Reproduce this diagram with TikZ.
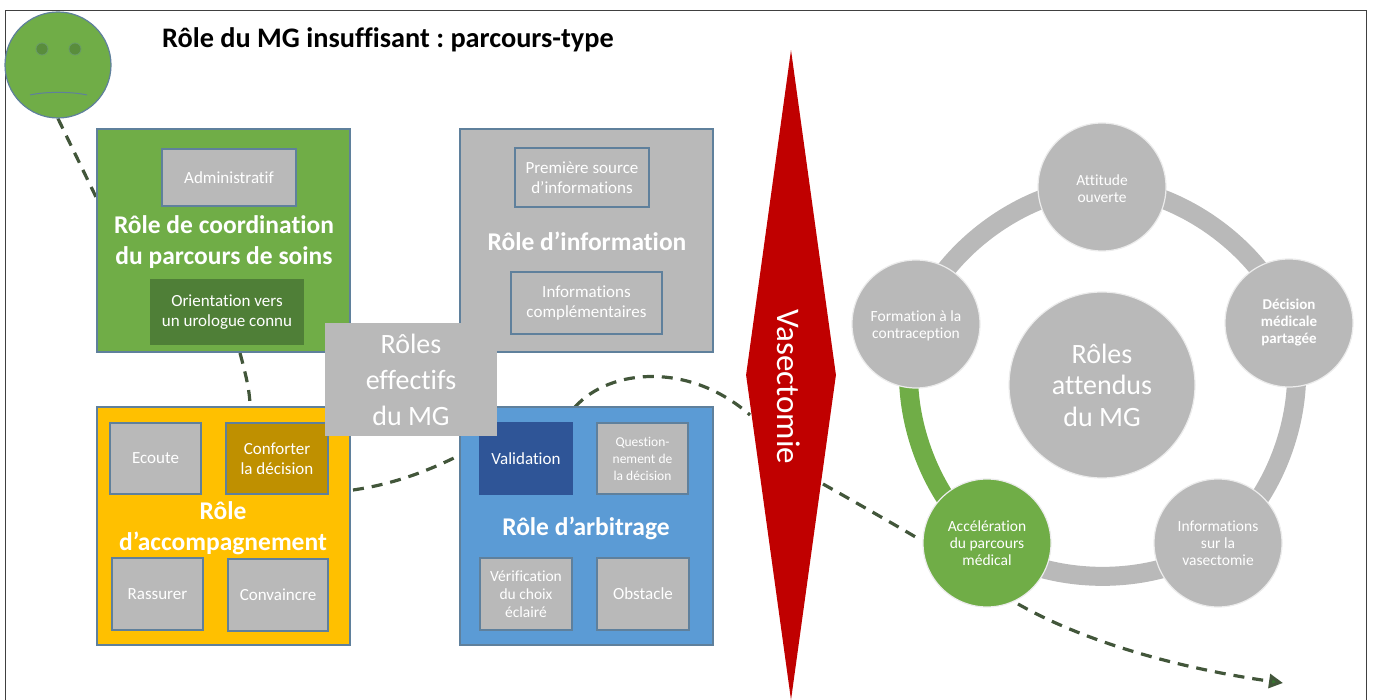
\documentclass[tikz,border=0pt]{standalone}
\usepackage{fontspec}
\setmainfont{Carlito}[Ligatures=NoCommon]
\usetikzlibrary{shapes.geometric,arrows.meta,backgrounds}
\definecolor{cgreen}{HTML}{70AD47}
\definecolor{cdgreen}{HTML}{4F7F37}
\definecolor{cblue}{HTML}{5B9BD5}
\definecolor{cdblue}{HTML}{2F5597}
\definecolor{cyellow}{HTML}{FFC000}
\definecolor{cgold}{HTML}{BF9000}
\definecolor{cgray}{HTML}{B9B9B9}
\definecolor{cred}{HTML}{C00000}
\definecolor{cline}{HTML}{5F809C}
\definecolor{cdash}{HTML}{42563A}
\tikzset{
  panel/.style={draw=cline,line width=1.2pt,rectangle,inner sep=0pt},
  inbox/.style={draw=cline,line width=1.3pt,rectangle,inner sep=1pt,fill=cgray,text=white,font=\fontsize{17}{20.5}\selectfont,align=center},
  head/.style={text=white,font=\bfseries\fontsize{25.5}{31}\selectfont,align=center,inner sep=0pt},
  big/.style={text=white,font=\fontsize{28}{36}\selectfont,align=center,inner sep=0pt},
  disc/.style={circle,draw=white!85!gray,line width=1.2pt,fill=cgray,text=white,inner sep=0pt,minimum size=128pt,align=center,font=\fontsize{15.5}{17}\selectfont},
  dashline/.style={draw=cdash,line width=3.2pt,dash pattern=on 11pt off 8pt},
  ringline/.style={line width=19pt,looseness=0.84}
}
\begin{document}
\frenchspacing
\begin{tikzpicture}[x=1pt,y=-1pt]
\useasboundingbox (0,0) rectangle (1376,700);
% panels
\node[panel,fill=cgreen,minimum width=253pt,minimum height=223pt] (green) at (223.5,240.5) {};
\node[panel,fill=cgray,minimum width=253pt,minimum height=223pt] (info) at (586.5,240.5) {};
\node[panel,fill=cyellow,minimum width=253pt,minimum height=238pt] (yellow) at (223.5,526) {};
\node[panel,fill=cblue,minimum width=253pt,minimum height=238pt] (blue) at (586.5,526) {};
% green panel content
\node[inbox,minimum width=134pt,minimum height=57pt] (admin) at (229,177.5) {Administratif};
\node[head] (hgreen) at (224,242) {Rôle de coordination\\du parcours de soins};
\node[inbox,fill=cdgreen,draw=cdgreen,minimum width=152pt,minimum height=64pt] (orient) at (227,312) {Orientation vers\\un urologue connu};
% info panel content
\node[inbox,minimum width=134pt,minimum height=59pt] (prem) at (582,177.5) {Première source\\d’informations};
\node[head] (hinfo) at (587,241) {Rôle d’information};
\node[inbox,minimum width=151pt,minimum height=62pt] (compl) at (586.5,303) {Informations\\complémentaires};
% yellow panel content
\node[inbox,minimum width=91pt,minimum height=71pt] (ecoute) at (155.5,458.5) {Ecoute};
\node[inbox,fill=cgold,minimum width=102pt,minimum height=71pt] (conf) at (277,458.5) {Conforter\\la décision};
\node[head] (hyellow) at (223,528) {Rôle\\d’accompagnement};
\node[inbox,minimum width=91pt,minimum height=72pt] (rass) at (157.5,594) {Rassurer};
\node[inbox,minimum width=100pt,minimum height=72pt] (conv) at (278,595) {Convaincre};
% blue panel content
\node[inbox,fill=cdblue,draw=cdblue,minimum width=92pt,minimum height=71pt] (valid) at (526,458.5) {Validation};
\node[inbox,font=\fontsize{13.5}{17}\selectfont,minimum width=91pt,minimum height=71pt] (quest) at (642.5,458.5) {Question-\\nement de\\la décision};
\node[head] (hblue) at (586,528) {Rôle d’arbitrage};
\node[inbox,font=\fontsize{15.5}{18}\selectfont,minimum width=92pt,minimum height=72pt] (verif) at (526,594) {Vérification\\du choix\\éclairé};
\node[inbox,minimum width=92pt,minimum height=72pt] (obst) at (643,594) {Obstacle};
% centre box
\node[rectangle,fill=cgray,minimum width=172pt,minimum height=113pt,big,inner sep=0pt] (effect) at (411,379.5) {Rôles\\effectifs\\du MG};
% smiley
\node[circle,fill=cgreen,draw=cline,line width=1.2pt,minimum size=106pt,inner sep=0pt] (smile) at (58,65) {};
\node[circle,fill=cdgreen!70!cgreen,draw=cgreen!60!cline,line width=.8pt,minimum size=12pt,inner sep=0pt] (eyeL) at (42,49) {};
\node[circle,fill=cdgreen!70!cgreen,draw=cgreen!60!cline,line width=.8pt,minimum size=12pt,inner sep=0pt] (eyeR) at (75,49) {};
\coordinate (mouthL) at (30,95);
\coordinate (mouthR) at (87,95);
\draw[cline,line width=1pt] (mouthL) .. controls (45,91.5) and (72,91.5) .. (mouthR);
% title
\node[anchor=west,inner sep=0pt,font=\bfseries\fontsize{28.3}{32}\selectfont] (title) at (162,40) {Rôle du MG insuffisant : parcours-type};
% vasectomie
\node[diamond,rotate=-90,fill=cred,inner sep=0pt,minimum width=650pt,minimum height=90pt,shape aspect=7.22] (vas) at (791,375) {};
\node[rotate=-90,text=white,inner sep=0pt,font=\fontsize{33}{36}\selectfont] (vastext) at (789,387) {Vasectomie};
% right cycle
\node[disc,minimum size=186pt] (attendus) at (1102,385) {};
\node[big,font=\fontsize{28}{31.5}\selectfont] (attxt) at (1102,385) {Rôles\\attendus\\du MG};
\node[disc] (c1) at (1102,187) {\rule{0pt}{15pt}Attitude\\ouverte};
\node[disc,font=\bfseries\fontsize{15}{17}\selectfont] (c2) at (1289,323) {Décision\\médicale\\partagée};
\node[disc] (c3) at (1218,543) {Informations\\sur la\\vasectomie};
\node[disc,fill=cgreen] (c4) at (987,543) {Accélération\\du parcours\\médical};
\node[disc] (c5) at (916,324) {\rule{0pt}{15pt}Formation à la\\contraception};
\coordinate (p1) at (96,197);
\coordinate (p2) at (240,353);
\coordinate (p3) at (250,407);
\coordinate (p4) at (353,490);
\coordinate (p5) at (460,455);
\coordinate (p6) at (575,407);
\coordinate (p7) at (750,415);
\coordinate (p8) at (823,484);
\coordinate (p9) at (919,539);
\coordinate (p10) at (1018,604);
\coordinate (endarrow) at (1283,683);
\begin{pgfonlayer}{background}
  \draw[black!75,line width=1pt] (5,700) -- (5,11) -- (1366,11) -- (1366,700);
  \draw[cgray,ringline] (c1.center) to[bend left=36] (c2.center);
  \draw[cgray,ringline] (c2.center) to[bend left=36] (c3.center);
  \draw[cgray,ringline] (c3.center) to[bend left=36] (c4.center);
  \draw[cgreen,ringline] (c4.center) to[bend left=36] (c5.center);
  \draw[cgray,ringline] (c5.center) to[bend left=36] (c1.center);
  \draw[dashline] (smile.south) -- (p1);
  \draw[dashline] (p2) .. controls (245,372) and (250,390) .. (p3);
  \draw[dashline] (p4) .. controls (395,484) and (430,470) .. (p5);
  \draw[dashline] (p6) .. controls (610,368) and (690,362) .. (p7);
  \draw[dashline] (p8) .. controls (855,502) and (890,522) .. (p9);
  \draw[dashline,-{Triangle[length=14pt,width=14pt,fill=cdash!80!green]}] (p10) .. controls (1090,645) and (1190,670) .. (endarrow);
\end{pgfonlayer}
\end{tikzpicture}
\end{document}
